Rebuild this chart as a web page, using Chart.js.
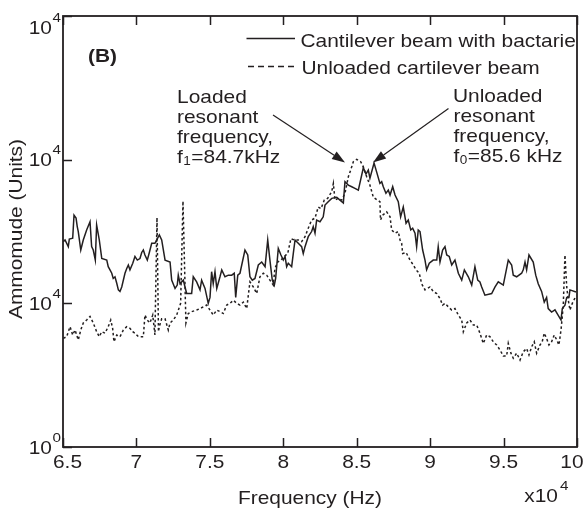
<!DOCTYPE html>
<html>
<head>
<meta charset="utf-8">
<script src="https://cdn.jsdelivr.net/npm/chart.js@4.4.1/dist/chart.umd.min.js"></script>
<style>
  html, body { margin: 0; padding: 0; background: #fff; }
  canvas { display: block; }
</style>
</head>
<body>
<canvas id="chart" width="583" height="508"></canvas>
<script>
// x in units of 10^4 Hz, y amplitude (log axis)
const xTicks = [6.5, 7, 7.5, 8, 8.5, 9, 9.5, 10];
const xTickLabels = ['6.5', '7', '7.5', '8', '8.5', '9', '9.5', '10'];
const yTicks = [1, 10, 100, 1000];
const yTickExp = ['0', '4', '4', '4'];

const solidFreq = [6.502,6.514,6.536,6.543,6.566,6.575,6.589,6.597,6.604,6.621,6.638,6.661,6.684,6.695,6.706,6.720,6.729,6.747,6.764,6.798,6.808,6.820,6.832,6.842,6.854,6.866,6.877,6.888,6.900,6.922,6.934,6.945,6.956,6.975,6.990,7.006,7.024,7.036,7.047,7.058,7.074,7.088,7.104,7.126,7.156,7.172,7.195,7.229,7.240,7.263,7.278,7.285,7.297,7.319,7.342,7.376,7.387,7.410,7.433,7.444,7.467,7.489,7.501,7.512,7.523,7.535,7.547,7.569,7.581,7.603,7.626,7.649,7.666,7.676,7.690,7.705,7.739,7.758,7.773,7.789,7.807,7.830,7.853,7.876,7.894,7.909,7.925,7.939,7.948,7.966,7.984,8.000,8.012,8.023,8.034,8.057,8.068,8.080,8.102,8.125,8.136,8.148,8.170,8.193,8.204,8.216,8.227,8.250,8.272,8.284,8.306,8.330,8.364,8.386,8.409,8.420,8.443,8.466,8.488,8.511,8.545,8.563,8.579,8.590,8.618,8.636,8.658,8.670,8.681,8.699,8.715,8.727,8.745,8.761,8.783,8.799,8.817,8.836,8.851,8.868,8.881,8.897,8.908,8.919,8.931,8.949,8.965,8.976,8.994,9.021,9.045,9.055,9.067,9.085,9.101,9.113,9.130,9.147,9.169,9.192,9.215,9.233,9.260,9.283,9.305,9.324,9.339,9.351,9.373,9.419,9.442,9.464,9.498,9.532,9.555,9.566,9.589,9.623,9.634,9.646,9.657,9.673,9.702,9.719,9.736,9.759,9.777,9.793,9.804,9.827,9.850,9.891,9.900,9.918,9.930,9.945,9.952,9.993];
const solidAmp = [26.9,27.6,24.8,28.0,28.4,41.1,39.2,34.2,31.6,23.5,27.6,32.4,37.0,24.8,23.5,20.0,35.1,27.6,20.5,20.0,18.0,17.1,16.2,14.9,15.3,13.8,12.4,12.1,13.0,16.2,17.5,18.5,17.1,19.0,21.2,20.0,20.5,22.6,23.5,21.7,20.0,22.6,26.2,26.2,29.9,27.6,20.0,19.4,14.5,12.7,13.4,15.7,13.7,14.5,11.7,11.7,15.3,14.1,12.4,14.5,12.7,10.0,11.0,16.6,13.7,16.6,12.7,15.3,17.1,15.3,15.7,15.7,16.2,11.0,15.7,16.2,23.5,21.7,15.3,14.5,14.9,18.5,19.4,18.0,27.6,20.0,14.5,13.4,14.9,24.1,21.7,20.0,21.2,18.0,19.0,18.0,22.2,27.6,26.2,24.8,22.2,24.8,29.1,31.6,34.2,30.8,38.0,37.0,40.0,48.3,51.0,53.8,54.8,52.3,49.9,70.2,66.5,64.8,63.2,61.4,87.9,79.3,84.7,74.3,94.9,81.9,68.3,70.2,64.8,58.3,61.4,56.7,64.8,56.7,51.0,40.0,46.8,36.1,38.0,32.4,33.3,30.8,24.8,32.4,31.6,23.5,20.0,17.1,19.0,20.0,20.0,24.8,19.4,23.5,24.8,21.7,21.2,18.5,20.0,16.2,14.5,17.1,15.3,13.4,18.0,14.5,14.1,13.0,11.4,11.7,13.0,14.1,13.4,20.0,18.5,15.7,15.3,16.2,17.1,19.4,17.1,21.7,19.4,15.7,13.7,12.1,10.2,11.0,9.2,8.7,9.0,7.65,9.2,9.7,11.0,11.0,12.4,12.0];

const dottedFreq = [6.502,6.525,6.548,6.566,6.582,6.604,6.621,6.638,6.661,6.684,6.706,6.729,6.747,6.764,6.786,6.808,6.825,6.838,6.847,6.866,6.888,6.911,6.934,6.956,6.975,6.990,7.013,7.047,7.058,7.074,7.092,7.111,7.126,7.140,7.150,7.156,7.172,7.195,7.217,7.229,7.251,7.274,7.301,7.317,7.337,7.353,7.376,7.410,7.433,7.455,7.478,7.501,7.523,7.547,7.569,7.591,7.615,7.637,7.660,7.683,7.705,7.728,7.751,7.773,7.796,7.819,7.841,7.864,7.887,7.909,7.932,7.943,7.962,7.984,8.007,8.030,8.052,8.075,8.102,8.125,8.148,8.170,8.193,8.216,8.238,8.257,8.279,8.302,8.330,8.341,8.352,8.374,8.398,8.420,8.443,8.459,8.477,8.500,8.527,8.545,8.568,8.590,8.613,8.640,8.658,8.662,8.677,8.704,8.727,8.738,8.761,8.783,8.795,8.806,8.813,8.836,8.863,8.885,8.904,8.926,8.942,8.965,8.999,9.021,9.045,9.067,9.085,9.101,9.124,9.147,9.169,9.192,9.215,9.226,9.249,9.271,9.294,9.317,9.339,9.362,9.385,9.407,9.430,9.453,9.476,9.498,9.521,9.532,9.550,9.566,9.589,9.612,9.634,9.657,9.673,9.691,9.709,9.725,9.748,9.763,9.777,9.793,9.809,9.827,9.845,9.862,9.877,9.891,9.900,9.907,9.918,9.930,9.941,9.952,9.968,9.986];
const dottedAmp = [5.7,5.86,6.88,6.02,6.52,5.56,6.52,7.3,7.65,8.1,7.3,6.35,5.86,6.35,6.2,6.88,7.65,6.7,5.4,6.02,5.86,6.52,6.88,6.7,6.35,6.2,5.86,5.86,8.29,7.65,7.3,8.29,6.02,39.5,6.35,6.88,7.8,7.8,6.52,7.3,7.65,8.29,10.0,51.5,7.3,8.5,8.75,8.98,9.2,9.45,9.73,8.98,8.29,8.98,8.75,8.5,9.73,10.0,10.5,10.0,9.73,10.2,9.2,14.1,13.0,11.7,15.3,16.2,15.7,14.5,13.4,17.5,19.4,20.0,21.2,22.2,28.2,27.6,27.6,26.9,29.1,33.3,38.0,39.2,46.8,45.6,52.3,53.8,60.0,68.3,52.3,53.8,52.3,58.3,76.0,84.7,96.8,100.5,96.8,89.1,76.0,66.5,54.8,52.3,51.0,38.0,41.1,43.4,40.0,32.4,30.8,31.6,27.6,26.2,22.2,22.6,20.0,18.5,17.1,16.2,13.7,12.4,13.0,12.1,11.7,10.8,9.73,10.0,9.45,8.98,9.2,8.29,7.65,6.35,7.3,7.65,7.06,7.06,6.2,5.26,6.02,5.86,5.4,5.13,4.73,4.3,4.3,5.26,4.5,4.15,4.5,4.03,4.6,4.85,4.37,4.98,5.4,4.5,5.13,5.4,6.2,5.7,5.13,5.4,6.02,5.56,5.13,6.52,8.1,10.0,21.7,13.0,10.5,8.98,10.0,10.9];

if (solidFreq.length !== solidAmp.length) throw new Error('solid ' + solidFreq.length + ' vs ' + solidAmp.length);
if (dottedFreq.length !== dottedAmp.length) throw new Error('dotted ' + dottedFreq.length + ' vs ' + dottedAmp.length);

const INK = '#231f20';
const FONT = '"Liberation Sans", Arial, Helvetica, sans-serif';
const SX = 1.13;   // the source text is a bit wide

function txt(ctx, s, x, y, size, align, bold) {
  ctx.save();
  ctx.font = (bold ? 'bold ' : '') + size + 'px ' + FONT;
  ctx.textAlign = align || 'left';
  ctx.textBaseline = 'alphabetic';
  ctx.translate(x, y);
  ctx.scale(SX, 1);
  ctx.fillText(s, 0, 0);
  ctx.restore();
}
function width(ctx, s, size) {
  ctx.save();
  ctx.font = size + 'px ' + FONT;
  const w = ctx.measureText(s).width * SX;
  ctx.restore();
  return w;
}
function arrow(ctx, x0, y0, x1, y1) {
  const a = Math.atan2(y1 - y0, x1 - x0), L = 13, W = 4.5;
  ctx.beginPath();
  ctx.moveTo(x0, y0);
  ctx.lineTo(x1 - L * Math.cos(a), y1 - L * Math.sin(a));
  ctx.stroke();
  ctx.beginPath();
  ctx.moveTo(x1, y1);
  ctx.lineTo(x1 - L * Math.cos(a) + W * Math.sin(a), y1 - L * Math.sin(a) - W * Math.cos(a));
  ctx.lineTo(x1 - L * Math.cos(a) - W * Math.sin(a), y1 - L * Math.sin(a) + W * Math.cos(a));
  ctx.closePath();
  ctx.fill();
}
// text with a small subscript after the first char, e.g. f1=84.7kHz
function subText(ctx, head, sub, tail, x, y) {
  txt(ctx, head, x, y, 18.5);
  let cx = x + width(ctx, head, 18.5);
  txt(ctx, sub, cx + 0.5, y + 2, 12);
  cx += width(ctx, sub, 12) + 1;
  txt(ctx, tail, cx, y, 18.5);
}

const frame = {
  id: 'frame',
  afterDraw(chart) {
    const ctx = chart.ctx, a = chart.chartArea;
    const xs = chart.scales.x, ys = chart.scales.y;
    ctx.save();
    ctx.strokeStyle = INK;
    ctx.fillStyle = INK;

    // box
    ctx.lineWidth = 1.8;
    ctx.strokeRect(a.left, a.top, a.right - a.left, a.bottom - a.top);

    // inward ticks
    ctx.lineWidth = 1.5;
    ctx.beginPath();
    xTicks.forEach(v => {
      const px = Math.round(xs.getPixelForValue(v)) + 0.5;
      ctx.moveTo(px, a.bottom); ctx.lineTo(px, a.bottom - 9);
      ctx.moveTo(px, a.top); ctx.lineTo(px, a.top + 9);
    });
    yTicks.forEach(v => {
      const py = Math.round(ys.getPixelForValue(v)) + 0.5;
      ctx.moveTo(a.left, py); ctx.lineTo(a.left + 9, py);
    });
    ctx.stroke();

    // x tick labels
    xTicks.forEach((v, i) => {
      let px = xs.getPixelForValue(v);
      if (i === 0) px += 4.5;
      if (i === xTicks.length - 1) px -= 5;
      txt(ctx, xTickLabels[i], px, 468, 18.5, 'center');
    });
    txt(ctx, 'x10', 558, 502, 18.5, 'right');
    txt(ctx, '4', 560, 490, 13.5, 'left');

    // y tick labels (10 with superscript)
    yTicks.forEach((v, i) => {
      let py = ys.getPixelForValue(v) + 6.5;
      if (i === yTicks.length - 1) py += 11.5;
      txt(ctx, '10', 52, py, 18.5, 'right');
      txt(ctx, yTickExp[i], 52.5, py - 12, 13.5, 'left');
    });

    // axis titles
    txt(ctx, 'Frequency (Hz)', (a.left + a.right) / 2 - 10, 504, 18.5, 'center');
    ctx.save();
    ctx.translate(21.5, 229);
    ctx.rotate(-Math.PI / 2);
    txt(ctx, 'Ammomude (Units)', 0, 0, 18.5, 'center');
    ctx.restore();

    // panel tag
    txt(ctx, '(B)', 88, 61.5, 18.5, 'left', true);

    // legend
    const ds = chart.data.datasets;
    ctx.lineWidth = 1.4;
    ctx.beginPath(); ctx.moveTo(246.5, 38.5); ctx.lineTo(295, 38.5); ctx.stroke();
    ctx.setLineDash([6, 4]);
    ctx.beginPath(); ctx.moveTo(248, 66.5); ctx.lineTo(297, 66.5); ctx.stroke();
    ctx.setLineDash([]);
    txt(ctx, ds[0].label, 300.5, 46.5, 18.5);
    txt(ctx, ds[1].label, 301.5, 73.5, 18.5);

    // annotations
    txt(ctx, 'Loaded', 177, 103, 18.5);
    txt(ctx, 'resonant', 177, 123, 18.5);
    txt(ctx, 'frequency,', 177, 143, 18.5);
    subText(ctx, 'f', '1', '=84.7kHz', 177, 163);
    txt(ctx, 'Unloaded', 453, 101.5, 18.5);
    txt(ctx, 'resonant', 453.5, 121.5, 18.5);
    txt(ctx, 'frequency,', 453.5, 141.5, 18.5);
    subText(ctx, 'f', '0', '=85.6 kHz', 453.5, 161.5);

    ctx.lineWidth = 1.2;
    arrow(ctx, 273, 115, 345, 162.5);
    arrow(ctx, 448.5, 108.5, 373, 162.5);

    ctx.restore();
  }
};

const solidPts = solidFreq.map((f, i) => ({ x: f, y: solidAmp[i] }));
const dottedPts = dottedFreq.map((f, i) => ({ x: f, y: dottedAmp[i] }));

new Chart(document.getElementById('chart').getContext('2d'), {
  type: 'line',
  data: {
    datasets: [
      {
        label: 'Cantilever beam with bactarie',
        data: solidPts,
        borderColor: INK,
        borderWidth: 1.5,
        pointRadius: 0,
        tension: 0,
        fill: false
      },
      {
        label: 'Unloaded cartilever beam',
        data: dottedPts,
        borderColor: INK,
        borderWidth: 1.5,
        borderDash: [2.5, 2.5],
        pointRadius: 0,
        tension: 0,
        fill: false
      }
    ]
  },
  options: {
    responsive: false,
    animation: false,
    events: [],
    layout: { padding: { left: 63, right: 6, top: 16, bottom: 61 } },
    scales: {
      x: { type: 'linear', min: 6.5, max: 10, display: false },
      y: { type: 'logarithmic', min: 1, max: 1000, display: false }
    },
    plugins: {
      legend: { display: false },
      tooltip: { enabled: false }
    }
  },
  plugins: [frame]
});
</script>
</body>
</html>
